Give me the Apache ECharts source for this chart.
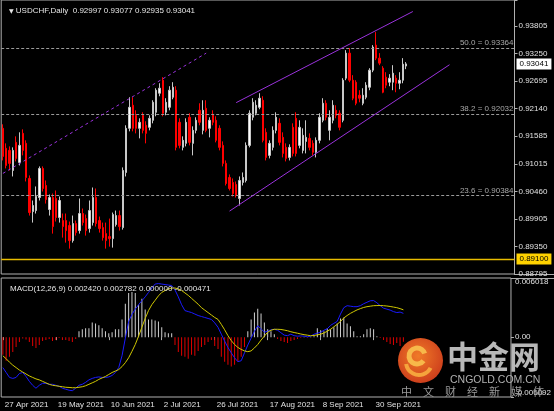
<!DOCTYPE html>
<html><head><meta charset="utf-8">
<script src="https://cdn.jsdelivr.net/npm/echarts@6/dist/echarts.min.js"></script>
<style>html,body{margin:0;padding:0;background:#000;}#c{width:554px;height:411px;}</style>
</head><body><div id="c"></div>
<script>
// ---- calendar (trading days) ----
const aprDays=[27,28,29,30];
const mayDays=[3,4,5,6,7,10,11,12,13,14,17,18,19,20,21,24,25,26,27,28,31];
const junDays=[1,2,3,4,7,8,9,10,11,14,15,16,17,18,21,22,23,24,25,28,29,30];
const julDays=[1,2,5,6,7,8,9,12,13,14,15,16,19,20,21,22,23,26,27,28,29,30];
const augDays=[2,3,4,5,6,9,10,11,12,13,16,17,18,19,20,23,24,25,26,27,30,31];
const sepDays=[1,2,3,6,7,8,9,10,13,14,15,16,17,20,21,22,23,24,27,28,29,30];
const octDays=[1,4,5,6,7,8,11,12,13];
const futureSlots=32;

// ---- price axis ticks ----
const priceTicks=['0.88795','0.89350','0.89905','0.90460','0.91015','0.91585','0.92140','0.92695','0.93250','0.93805'];
const priceTop=0.94332;
const macdTicks=['-0.006092','0.00','0.006018'];

// ---- candles: [open, close, low, high] ----
const candles=[
[0.91739,0.91171,0.91090,0.91820],[0.91334,0.90989,0.90928,0.91435],[0.91293,0.91030,0.90888,0.91374],[0.90888,0.91293,0.90766,0.91354],
[0.91455,0.91131,0.91070,0.91577],[0.91050,0.91394,0.90989,0.91658],[0.91637,0.91293,0.91192,0.91718],[0.91435,0.90746,0.90665,0.91496],
[0.90726,0.90037,0.89976,0.90787],[0.90057,0.90179,0.89834,0.90280],[0.90077,0.90361,0.90017,0.90564],[0.90341,0.90928,0.90280,0.90969],
[0.90928,0.90523,0.90462,0.90969],[0.90584,0.90300,0.90219,0.90685],[0.90098,0.90341,0.89976,0.90402],[0.90341,0.89753,0.89611,0.90422],
[0.90321,0.89936,0.89855,0.90483],[0.89936,0.90280,0.89834,0.90361],[0.89875,0.89753,0.89530,0.90017],[0.89875,0.89672,0.89429,0.90017],
[0.89774,0.89470,0.89308,0.89855],[0.89470,0.89814,0.89429,0.89976],[0.89814,0.89632,0.89571,0.89875],[0.89672,0.90017,0.89611,0.90321],
[0.90017,0.89834,0.89774,0.90118],[0.89915,0.89672,0.89571,0.89996],[0.89713,0.90077,0.89632,0.90280],[0.89834,0.90341,0.89774,0.90543],
[0.90341,0.89814,0.89753,0.90523],[0.89875,0.89713,0.89632,0.89956],[0.89733,0.89530,0.89470,0.89834],[0.89611,0.89470,0.89308,0.89834],
[0.89551,0.89510,0.89348,0.89915],[0.89510,0.89996,0.89328,0.90037],[0.89794,0.89976,0.89753,0.90077],[0.89976,0.89753,0.89672,0.90077],
[0.89733,0.90888,0.89692,0.90949],[0.90847,0.91739,0.90766,0.91800],[0.91739,0.92164,0.91678,0.92367],[0.92205,0.91739,0.91678,0.92367],
[0.92002,0.91739,0.91637,0.92103],[0.91739,0.91860,0.91536,0.91941],[0.92002,0.91698,0.91637,0.92063],[0.91800,0.91637,0.91435,0.91881],
[0.91759,0.91941,0.91698,0.92002],[0.91901,0.92265,0.91840,0.92306],[0.92063,0.92509,0.91982,0.92549],[0.92448,0.92549,0.92387,0.92650],
[0.92711,0.92043,0.91982,0.92772],[0.92063,0.92265,0.92002,0.92347],[0.92164,0.92509,0.92103,0.92590],[0.92367,0.92569,0.92326,0.92671],
[0.92509,0.91354,0.91293,0.92590],[0.91860,0.91394,0.91334,0.91941],[0.91354,0.91496,0.91293,0.91577],[0.91435,0.91860,0.91374,0.91941],
[0.91962,0.91455,0.91394,0.92043],[0.91435,0.91698,0.91192,0.91779],[0.91698,0.91901,0.91637,0.91962],[0.92103,0.91860,0.91800,0.92245],
[0.91698,0.92103,0.91617,0.92306],[0.92144,0.91698,0.91658,0.92306],[0.91739,0.91901,0.91556,0.91962],[0.92022,0.91860,0.91800,0.92103],
[0.91901,0.91496,0.91455,0.91982],[0.91739,0.91354,0.91293,0.91800],[0.91394,0.91030,0.90969,0.91475],[0.91030,0.90624,0.90584,0.91090],
[0.90746,0.90523,0.90483,0.90807],[0.90645,0.90422,0.90361,0.90726],[0.90604,0.90381,0.90341,0.90665],[0.90321,0.90685,0.90179,0.90766],
[0.90645,0.90746,0.90584,0.90847],[0.90685,0.91394,0.90645,0.91455],[0.91394,0.92043,0.91354,0.92103],[0.91962,0.92265,0.91901,0.92347],
[0.92043,0.92205,0.92002,0.92306],[0.92164,0.92347,0.92124,0.92448],[0.92306,0.91496,0.91455,0.92387],[0.91658,0.91151,0.91090,0.91739],
[0.91192,0.91435,0.91131,0.91496],[0.91354,0.91698,0.91293,0.91779],[0.91698,0.91962,0.91637,0.92063],[0.91840,0.91455,0.91394,0.91941],
[0.91556,0.91232,0.91151,0.91658],[0.91354,0.91131,0.91070,0.91435],[0.91151,0.91354,0.91090,0.91415],[0.91759,0.91232,0.91171,0.91840],
[0.91941,0.91232,0.91171,0.92063],[0.91394,0.91759,0.91334,0.91901],[0.91293,0.91597,0.91232,0.91739],[0.91475,0.91556,0.91232,0.91901],
[0.91536,0.91354,0.91293,0.91637],[0.91435,0.91253,0.91192,0.91496],[0.91253,0.91496,0.91151,0.91556],[0.91496,0.91962,0.91435,0.92043],
[0.91901,0.92245,0.91860,0.92347],[0.92245,0.91962,0.91901,0.92306],[0.91698,0.91962,0.91496,0.92103],[0.91901,0.92205,0.91840,0.92306],
[0.92103,0.92002,0.91941,0.92205],[0.92043,0.91759,0.91698,0.92103],[0.91901,0.92711,0.91860,0.92752],[0.92752,0.93258,0.92711,0.93319],
[0.93258,0.92711,0.92671,0.93360],[0.92711,0.92347,0.92306,0.92813],[0.92671,0.92245,0.92205,0.92711],[0.92407,0.92347,0.92265,0.92509],
[0.92245,0.92407,0.92205,0.92549],[0.92367,0.92610,0.92326,0.92671],[0.92569,0.92914,0.92509,0.92954],[0.92914,0.93380,0.92873,0.93420],
[0.93420,0.93157,0.93116,0.93684],[0.93157,0.93056,0.93015,0.93258],[0.92954,0.92468,0.92448,0.92995],[0.92772,0.92610,0.92549,0.92873],
[0.92671,0.92752,0.92590,0.92833],[0.92671,0.92853,0.92509,0.93015],[0.92752,0.92650,0.92468,0.92813],[0.92650,0.92711,0.92529,0.92873],
[0.92711,0.93035,0.92650,0.93157],[0.92997,0.93041,0.92935,0.93077]
];

// ---- MACD(12,26,9) ----
const macdLine=[-0.00310,-0.00360,-0.00410,-0.00420,-0.00410,-0.00370,-0.00360,-0.00400,-0.00450,-0.00490,
-0.00520,-0.00490,-0.00470,-0.00470,-0.00480,-0.00480,-0.00490,-0.00500,-0.00520,-0.00530,
-0.00540,-0.00545,-0.00520,-0.00490,-0.00480,-0.00460,-0.00435,-0.00420,-0.00410,-0.00405,
-0.00410,-0.00410,-0.00405,-0.00390,-0.00360,-0.00310,-0.00190,-0.00010,0.00160,0.00230,
0.00285,0.00330,0.00370,0.00410,0.00455,0.00500,0.00540,0.00545,0.00540,0.00535,
0.00530,0.00525,0.00480,0.00410,0.00330,0.00270,0.00260,0.00250,0.00235,0.00220,
0.00210,0.00200,0.00190,0.00180,0.00145,0.00100,0.00030,-0.00040,-0.00105,-0.00160,
-0.00210,-0.00250,-0.00240,-0.00160,-0.00080,-0.00010,0.00060,0.00115,0.00085,0.00050,
0.00060,0.00075,0.00080,0.00070,0.00045,0.00020,0.00015,0.00030,0.00015,0.00010,
0.00012,0.00010,0.00003,0.00010,0.00030,0.00040,0.00050,0.00070,0.00085,0.00120,
0.00140,0.00160,0.00235,0.00300,0.00320,0.00315,0.00310,0.00310,0.00320,0.00340,
0.00355,0.00370,0.00372,0.00350,0.00320,0.00295,0.00285,0.00275,0.00260,0.00250,
0.00255,0.002420];
const signalLine=[-0.00190,-0.00220,-0.00255,-0.00285,-0.00310,-0.00335,-0.00355,-0.00375,-0.00395,-0.00410,
-0.00425,-0.00435,-0.00450,-0.00465,-0.00480,-0.00490,-0.00495,-0.00500,-0.00505,-0.00510,
-0.00512,-0.00515,-0.00515,-0.00510,-0.00505,-0.00495,-0.00480,-0.00465,-0.00450,-0.00430,
-0.00415,-0.00400,-0.00380,-0.00360,-0.00345,-0.00330,-0.00300,-0.00260,-0.00210,-0.00145,
-0.00075,0.00010,0.00100,0.00190,0.00270,0.00330,0.00375,0.00420,0.00455,0.00475,
0.00490,0.00500,0.00500,0.00490,0.00475,0.00450,0.00425,0.00395,0.00365,0.00335,
0.00300,0.00275,0.00250,0.00225,0.00200,0.00180,0.00130,0.00075,0.00015,-0.00035,
-0.00075,-0.00105,-0.00125,-0.00140,-0.00148,-0.00140,-0.00110,-0.00075,-0.00030,0.00010,
0.00050,0.00070,0.00080,0.00080,0.00078,0.00072,0.00065,0.00055,0.00047,0.00040,
0.00032,0.00025,0.00020,0.00014,0.00017,0.00023,0.00030,0.00042,0.00060,0.00080,
0.00105,0.00130,0.00160,0.00195,0.00220,0.00242,0.00260,0.00277,0.00290,0.00302,
0.00310,0.00315,0.00320,0.00321,0.00322,0.00320,0.00317,0.00312,0.00306,0.00300,
0.00290,0.002782];
const macdHist=[-0.00180,-0.00240,-0.00200,-0.00150,-0.00100,-0.00050,-0.00015,-0.00025,-0.00050,-0.00090,
-0.00110,-0.00080,-0.00040,-0.00030,-0.00020,-0.00040,-0.00030,-0.00010,-0.00030,-0.00030,
-0.00040,-0.00050,-0.00020,0.00060,0.00080,0.00090,0.00090,0.00150,0.00140,0.00120,
0.00090,0.00060,0.00040,0.00050,0.00080,0.00080,0.00180,0.00340,0.00450,0.00460,
0.00450,0.00330,0.00390,0.00280,0.00180,0.00180,0.00170,0.00160,0.00100,0.00050,
0.00040,0.00040,-0.00080,-0.00150,-0.00190,-0.00200,-0.00220,-0.00180,-0.00190,-0.00140,
-0.00100,-0.00080,-0.00050,-0.00030,-0.00090,-0.00120,-0.00200,-0.00250,-0.00280,-0.00300,
-0.00280,-0.00250,-0.00200,-0.00100,0.00060,0.00180,0.00250,0.00290,0.00240,0.00150,
0.00080,0.00060,0.00030,-0.00020,-0.00040,-0.00050,-0.00060,-0.00040,-0.00030,-0.00020,
-0.00010,0.00005,-0.00005,0.00005,0.00010,0.00090,0.00070,0.00060,0.00090,0.00080,
0.00100,0.00140,0.00190,0.00200,0.00140,0.00110,0.00060,0.00010,0.00010,0.00030,
0.00080,0.00090,0.00080,0.00010,-0.00010,-0.00030,-0.00050,-0.00070,-0.00080,-0.00060,
-0.00090,-0.000471];

// ---- drawn objects ----
const fibPct=['50.0','38.2','23.6'];
const fibLevels=[0.93364,0.92032,0.90384];
const supportLevel=0.89100;
const trendDashed=[[0,0.90827],[61,0.93258]];
const channelUpper=[[70,0.92258],[123,0.94099]];
const channelLower=[[68,0.90066],[134,0.93024]];

// ---- build ----
const dates=[].concat(
  aprDays.map(d=>d+' Apr 2021'),mayDays.map(d=>d+' May 2021'),junDays.map(d=>d+' Jun 2021'),
  julDays.map(d=>d+' Jul 2021'),augDays.map(d=>d+' Aug 2021'),sepDays.map(d=>d+' Sep 2021'),
  octDays.map(d=>d+' Oct 2021'));
const categories=dates.concat(Array.from({length:futureSlots},(_,k)=>'+'+(k+1)));
const nDates=dates.length;
const last=candles[candles.length-1];
const f5=v=>v.toFixed(5), f6=v=>v.toFixed(6);
const lastHist=macdHist[macdHist.length-1];
const FONT='"Liberation Sans", Arial, sans-serif';
const PURPLE='#9a32dc';
const GRIDW=513.3, GLEFT=1.2;
const labelEvery=(i)=> i%16===0 && i<nDates;

const chart=echarts.init(document.getElementById('c'),null,{renderer:'canvas'});
chart.setOption({
  backgroundColor:'#000000',
  animation:false,
  title:[
    {text:'{t|▼} USDCHF,Daily  '+f5(last[0])+' '+f5(last[3])+' '+f5(last[2])+' '+f5(last[1]),
     left:4,top:2,textStyle:{color:'#e6e6e6',fontSize:8,fontWeight:'normal',fontFamily:FONT,
       rich:{t:{fontSize:6,color:'#e6e6e6',fontFamily:'DejaVu Sans'}}}},
    {text:'MACD(12,26,9) '+f6(macdLine[macdLine.length-1])+' '+f6(signalLine[signalLine.length-1])+' '+f6(Math.max(lastHist,0))+' '+f6(Math.min(lastHist,0)),
     left:5,top:280,textStyle:{color:'#e6e6e6',fontSize:8,fontWeight:'normal',fontFamily:FONT}}
  ],
  grid:[
    {left:GLEFT,top:0,width:GRIDW,height:274,show:true,borderColor:'#b0b0b0',borderWidth:1,containLabel:false},
    {left:GLEFT,top:278,width:GRIDW,height:119,show:true,borderColor:'#b0b0b0',borderWidth:1,containLabel:false}
  ],
  xAxis:[
    {type:'category',gridIndex:0,data:categories,boundaryGap:true,show:false},
    {type:'category',gridIndex:1,data:categories,boundaryGap:true,
     axisLine:{show:false},splitLine:{show:false},
     axisTick:{show:true,alignWithLabel:true,interval:labelEvery,length:3,lineStyle:{color:'#b0b0b0'}},
     axisLabel:{interval:labelEvery,color:'#e0e0e0',fontSize:8,fontFamily:FONT,align:'left',margin:4,padding:[0,0,0,2]}}
  ],
  yAxis:[
    {type:'value',gridIndex:0,position:'right',min:parseFloat(priceTicks[0]),max:priceTop,
     interval:(parseFloat(priceTicks[9])-parseFloat(priceTicks[0]))/9,
     axisLine:{show:false},splitLine:{show:false},
     axisTick:{show:true,length:3,lineStyle:{color:'#b0b0b0'}},
     axisLabel:{color:'#e0e0e0',fontSize:8,fontFamily:FONT,margin:4,formatter:(v,i)=>priceTicks[i]||''}},
    {type:'value',gridIndex:1,position:'right',min:parseFloat(macdTicks[0]),max:parseFloat(macdTicks[2]),
     interval:-parseFloat(macdTicks[0]),
     axisLine:{show:false},splitLine:{show:false},
     axisTick:{show:true,length:3,lineStyle:{color:'#b0b0b0'}},
     axisLabel:{color:'#e0e0e0',fontSize:8,fontFamily:FONT,margin:4,
       verticalAlignMinLabel:'bottom',verticalAlignMaxLabel:'top',
       formatter:(v,i)=>macdTicks[i]||''}}
  ],
  series:[
    {type:'candlestick',xAxisIndex:0,yAxisIndex:0,data:candles,barWidth:1.6,
     itemStyle:{color:'#ffffff',color0:'#ff0000',borderColor:'#c8c8c8',borderColor0:'#ff0000',borderWidth:1},
     markLine:{silent:true,symbol:['none','none'],animation:false,precision:6,label:{show:false},
       data:[
         ...fibLevels.map((lv,k)=>({yAxis:lv,lineStyle:{type:[3,2],color:'#9a9a9a',width:1},
            label:{show:true,position:'insideEndTop',formatter:fibPct[k]+' = '+f5(lv),color:'#a8a8a8',fontSize:8,fontFamily:FONT,distance:1}})),
         {yAxis:supportLevel,lineStyle:{type:'solid',color:'#e8bc00',width:1.3},
            label:{show:true,position:'end',formatter:f5(supportLevel),backgroundColor:'#ffd200',color:'#000000',
              fontSize:8,fontFamily:FONT,padding:[2,3,1,3],distance:2}},
         {yAxis:last[1],lineStyle:{type:'solid',color:'rgba(0,0,0,0)',width:1},
            label:{show:true,position:'end',formatter:f5(last[1]),backgroundColor:'#ffffff',color:'#000000',
              fontSize:8,fontFamily:FONT,padding:[2,3,1,3],distance:2}},
         [{coord:trendDashed[0],lineStyle:{type:[3,3],color:PURPLE,width:1}},{coord:trendDashed[1]}],
         [{coord:channelUpper[0],lineStyle:{type:'solid',color:PURPLE,width:1}},{coord:channelUpper[1]}],
         [{coord:channelLower[0],lineStyle:{type:'solid',color:PURPLE,width:1}},{coord:channelLower[1]}]
       ]}
    },
    {type:'bar',xAxisIndex:1,yAxisIndex:1,data:macdHist,barWidth:1,
     itemStyle:{color:(p)=>p.value>=0?'#d0d0d0':'#e00000'}},
    {type:'line',xAxisIndex:1,yAxisIndex:1,data:macdLine,showSymbol:false,symbol:'none',
     lineStyle:{color:'#1a1aff',width:1},z:3},
    {type:'line',xAxisIndex:1,yAxisIndex:1,data:signalLine,showSymbol:false,symbol:'none',
     lineStyle:{color:'#d0c800',width:1},z:4}
  ],
  graphic:[
    {type:'line',shape:{x1:514,y1:274.5,x2:554,y2:274.5},style:{stroke:'#b0b0b0',lineWidth:1},silent:true},
    {type:'line',shape:{x1:514,y1:278.5,x2:554,y2:278.5},style:{stroke:'#b0b0b0',lineWidth:1},silent:true},
    {type:'circle',shape:{cx:420.5,cy:360.5,r:22.5},z:50,silent:true,
     style:{fill:new echarts.graphic.RadialGradient(0.45,0.4,0.7,[{offset:0,color:'#f07a28'},{offset:1,color:'#c8361a'}])}},
    {type:'arc',shape:{cx:417,cy:356,r:8,startAngle:Math.PI*0.2,endAngle:Math.PI*1.9},z:51,silent:true,
     style:{stroke:'#f7b84a',lineWidth:5,fill:null}},
    {type:'arc',shape:{cx:419,cy:362,r:13,startAngle:Math.PI*0.15,endAngle:Math.PI*0.95},z:51,silent:true,
     style:{stroke:'#f5a43c',lineWidth:4,fill:null}},
    {type:'text',x:447,y:341,z:50,silent:true,
     style:{text:'中金网',font:'bold 31px "Noto Sans CJK SC"',fill:'#b8b8b8',textVerticalAlign:'top'}},
    {type:'text',x:450,y:375,z:50,silent:true,
     style:{text:'CNGOLD.COM.CN',font:'10.5px '+FONT,fill:'#b0b0b0',textVerticalAlign:'top'}},
    {type:'text',x:401,y:386,z:50,silent:true,
     style:{text:'中　文　财　经　新　媒　体',font:'11px "Noto Sans CJK SC"',fill:'#9a9a9a',textVerticalAlign:'top'}}
  ]
});
</script></body></html>
